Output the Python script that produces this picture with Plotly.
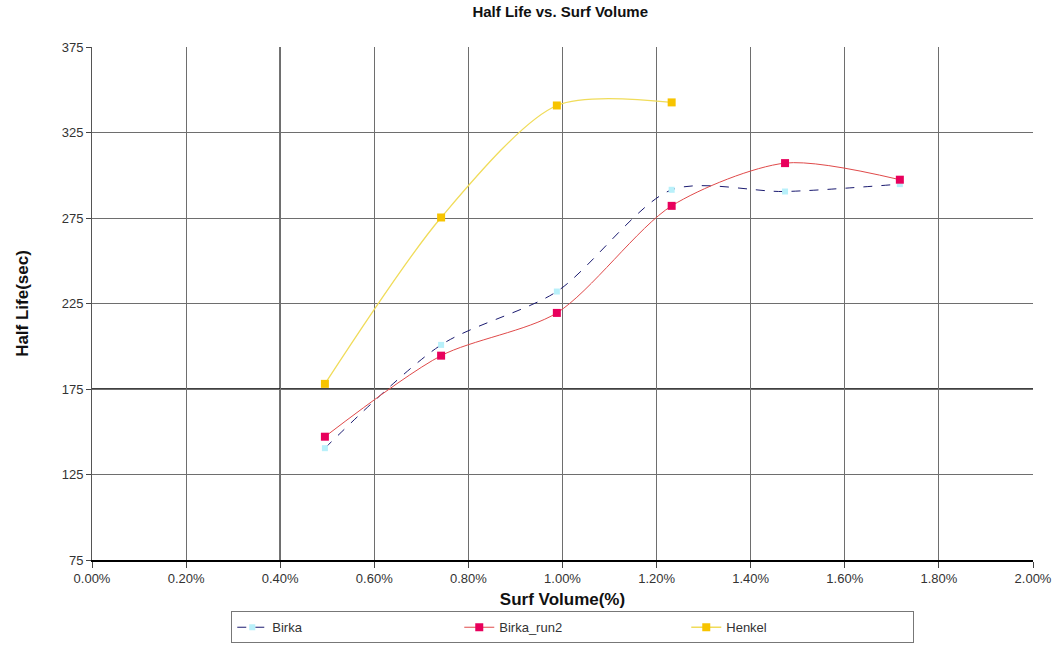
import plotly.graph_objects as go

# Surfactant volume (fraction, shown as %) and measured foam half-life (sec)
surf_volume = [0.00495, 0.00742, 0.00988, 0.01232, 0.01473, 0.01717]
birka = [140.4, 200.8, 232.0, 291.5, 290.5, 294.8]
birka_run2 = [147.1, 194.5, 219.5, 282.1, 307.1, 297.4]
henkel_volume = [0.00495, 0.00742, 0.00988, 0.01232]
henkel = [178.0, 275.3, 340.8, 342.6]

y_ticks = [75, 125, 175, 225, 275, 325, 375]

font_family = "Liberation Sans, Arial, sans-serif"

fig = go.Figure()

fig.add_trace(go.Scatter(
    x=surf_volume, y=birka, name="Birka", mode="lines+markers",
    line=dict(color="#1a1a70", width=1, dash="dash", shape="spline", smoothing=0.8),
    marker=dict(symbol="square", size=6, color="#b8f0fa", line=dict(width=0)),
))
fig.add_trace(go.Scatter(
    x=surf_volume, y=birka_run2, name="Birka_run2", mode="lines+markers",
    line=dict(color="#e04a4a", width=1, shape="spline", smoothing=0.8),
    marker=dict(symbol="square", size=8, color="#e8005c", line=dict(width=0)),
))
fig.add_trace(go.Scatter(
    x=henkel_volume, y=henkel, name="Henkel", mode="lines+markers",
    line=dict(color="#f0dc5a", width=1.3, shape="spline", smoothing=0.8),
    marker=dict(symbol="square", size=8, color="#f7c400", line=dict(width=0)),
))

# Heavier reference gridlines at 0.40% and 175 sec
fig.add_shape(type="line", xref="x", yref="paper", x0=0.004, x1=0.004, y0=0, y1=1,
              line=dict(color="#000000", width=1.5), layer="below")
fig.add_shape(type="line", xref="paper", yref="y", x0=0, x1=1, y0=175, y1=175,
              line=dict(color="#000000", width=1.5), layer="below")

fig.update_layout(
    width=1063, height=645,
    margin=dict(l=92, r=30, t=47, b=85, autoexpand=False),
    paper_bgcolor="white", plot_bgcolor="white",
    font=dict(family=font_family, size=12, color="#222222"),
    title=dict(text="<b>Half Life vs. Surf Volume</b>", x=0.527, xanchor="center",
               y=0.99, yanchor="top", font=dict(size=15, color="#111111")),
    xaxis=dict(
        range=[0, 0.02], dtick=0.002, tick0=0, tickformat=".2%",
        showgrid=True, gridcolor="#6e6e6e", gridwidth=1,
        showline=True, linecolor="#000000", linewidth=1.5,
        ticks="outside", ticklen=6, tickcolor="#444444",
        zeroline=False,
        title=dict(text="<b>Surf Volume(%)</b>", font=dict(size=17, color="#111111"), standoff=8),
        tickfont=dict(size=13, color="#333333"),
    ),
    yaxis=dict(
        range=[75, 375], tickvals=y_ticks,
        showgrid=True, gridcolor="#6e6e6e", gridwidth=1,
        showline=True, linecolor="#555555", linewidth=1,
        ticks="outside", ticklen=5, tickcolor="#444444",
        zeroline=False,
        title=dict(text="<b>Half Life(sec)</b>", font=dict(size=17, color="#111111"), standoff=28),
        tickfont=dict(size=13, color="#333333"),
    ),
    legend=dict(
        orientation="h", x=0.148, xanchor="left", y=-0.100, yanchor="top",
        bordercolor="#777777", borderwidth=1, bgcolor="white",
        font=dict(size=13, color="#333333"),
        entrywidth=182, itemwidth=30, tracegroupgap=0,
    ),
    showlegend=True,
)

fig.write_html("out.html")
